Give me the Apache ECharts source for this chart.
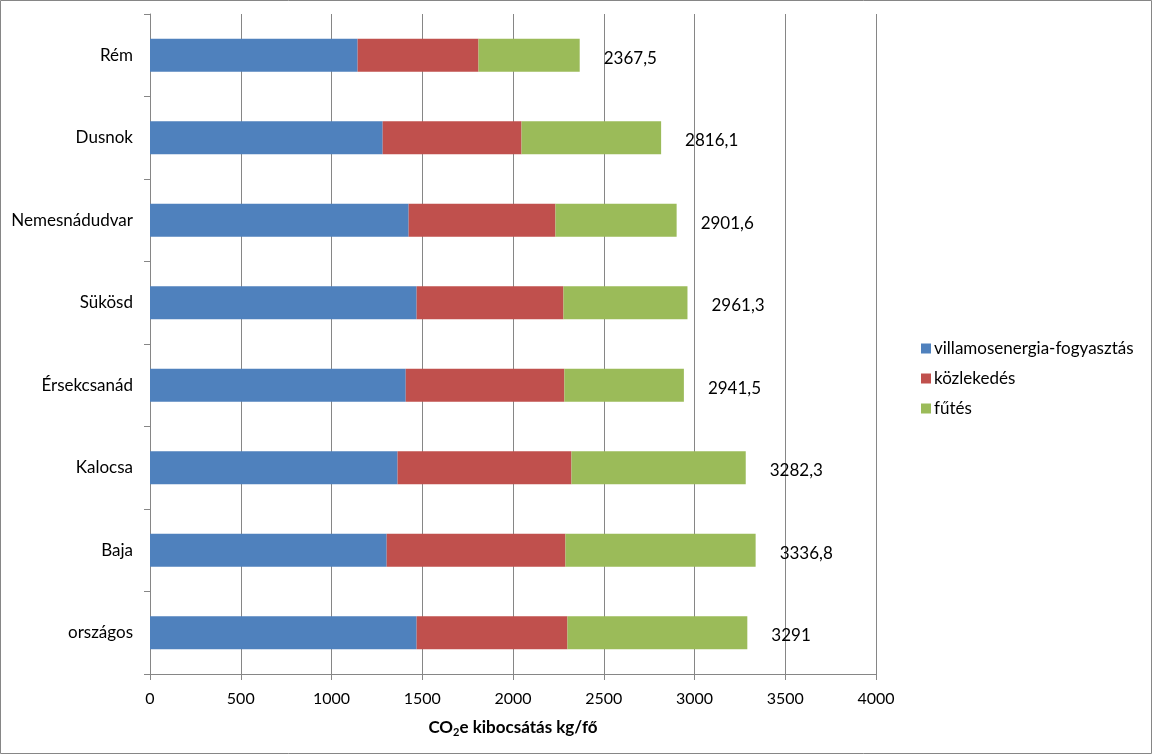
<!DOCTYPE html>
<html>
<head>
<meta charset="utf-8">
<script src="https://cdn.jsdelivr.net/npm/echarts@6/dist/echarts.min.js"></script>
<style>
html,body{margin:0;padding:0;background:#fff;}
#c{width:1152px;height:754px;}
</style>
</head>
<body>
<div id="c"></div>
<script>
const categories = ['Rém','Dusnok','Nemesnádudvar','Sükösd','Érsekcsanád','Kalocsa','Baja','országos'];
const seriesNames = ['villamosenergia-fogyasztás','közlekedés','fűtés'];
const villamos = [1144, 1282, 1425, 1469, 1409, 1364, 1304, 1469];
const kozlekedes = [666, 765, 809, 809, 874, 958, 985, 831];
const futes = [557.5, 769.1, 667.6, 683.3, 658.5, 960.3, 1047.8, 991];
const totals = [2367.5, 2816.1, 2901.6, 2961.3, 2941.5, 3282.3, 3336.8, 3291];
const xTicks = [0, 500, 1000, 1500, 2000, 2500, 3000, 3500, 4000];

const FONT = 'Lato';
const FS = 17;
const colors = ['#4F81BD', '#C0504D', '#9BBB59'];
const chart = echarts.init(document.getElementById('c'), null, {renderer: 'canvas'});
const mk = (name, data, i, withLabel) => ({
  name, type: 'bar', stack: 'total', data,
  barCategoryGap: '60%',
  itemStyle: {color: colors[i]},
  label: withLabel ? {
    show: true, position: 'right', distance: 24, offset: [0, 3],
    color: '#000', fontFamily: FONT, fontSize: FS,
    formatter: p => String(totals[p.dataIndex]).replace('.', ',')
  } : {show: false},
  emphasis: {disabled: true},
  animation: false
});
chart.setOption({
  animation: false,
  color: colors,
  textStyle: {fontFamily: FONT},
  grid: {left: 150, right: 276, top: 14, bottom: 80, containLabel: false},
  legend: {
    orient: 'vertical', left: 916, top: 335,
    itemWidth: 10, itemHeight: 10, itemGap: 13,
    icon: 'rect',
    textStyle: {fontFamily: FONT, fontSize: FS, color: '#000', padding: [0,0,0,-2]},
    data: seriesNames
  },
  xAxis: {
    type: 'value', min: 0, max: 4000, interval: 500,
    axisLine: {show: true, lineStyle: {color: '#868686'}},
    axisTick: {show: true, length: 6, lineStyle: {color: '#868686'}},
    splitLine: {show: true, lineStyle: {color: '#868686', width: 1}},
    axisLabel: {color: '#000', fontFamily: FONT, fontSize: 16, margin: 17,
      formatter: v => xTicks.includes(v) ? String(v) : ''},
    name: '{a|CO}{s|2}{a|e kibocsátás kg/fő}',
    nameLocation: 'middle', nameGap: 44,
    nameTextStyle: {
      rich: {
        a: {fontFamily: FONT, fontSize: FS, fontWeight: 'bold', color: '#000'},
        s: {fontFamily: FONT, fontSize: 11, fontWeight: 'bold', color: '#000', verticalAlign: 'bottom', padding: [9,0,0,0]}
      }
    }
  },
  yAxis: {
    type: 'category', data: categories, inverse: true,
    axisLine: {show: true, lineStyle: {color: '#868686'}},
    axisTick: {show: true, length: 6, lineStyle: {color: '#868686'}},
    splitLine: {show: false},
    axisLabel: {color: '#000', fontFamily: FONT, fontSize: FS, margin: 17}
  },
  graphic: [{
    type: 'rect', shape: {x: 0.5, y: 0.5, width: 1151, height: 753},
    style: {fill: null, stroke: '#868686', lineWidth: 1}, silent: true, z: 100
  }],
  series: [
    mk(seriesNames[0], villamos, 0, false),
    mk(seriesNames[1], kozlekedes, 1, false),
    mk(seriesNames[2], futes, 2, true)
  ]
});
</script>
</body>
</html>
